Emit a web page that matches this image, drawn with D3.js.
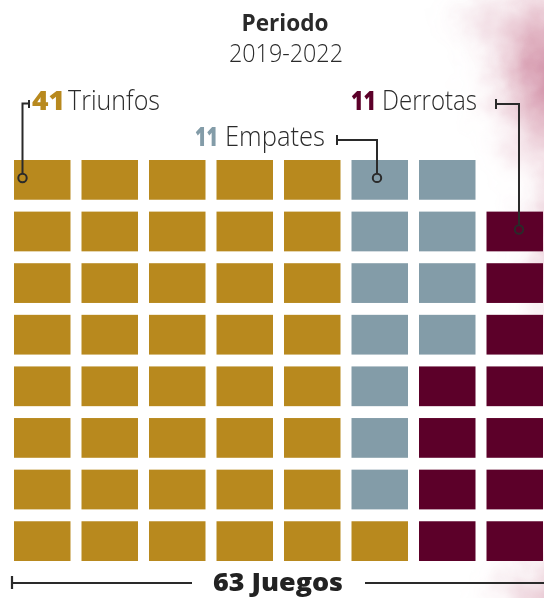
<!DOCTYPE html>
<html>
<head>
<meta charset="utf-8">
<script src="https://cdn.jsdelivr.net/npm/d3@7"></script>
<style>
html,body{margin:0;padding:0;background:#fff;}
svg{display:block;}
</style>
</head>
<body>
<svg id="chart" width="544" height="598"></svg>
<script>
// ---- data ----
const categories = ["Triunfos", "Empates", "Derrotas"];
const counts = [41, 11, 11];
const colors = ["#b8891e", "#839ca8", "#5c0029"];
const totalLabel = "63 Juegos";
const titleText = "Periodo";
const subtitleText = "2019-2022";
const nCols = 8, nRows = 8;

const svg = d3.select("#chart");

// background watercolor
const defs = svg.append("defs");
const f = defs.append("filter").attr("id", "blur").attr("x", "-50%").attr("y", "-50%").attr("width", "200%").attr("height", "200%");
f.append("feTurbulence").attr("type", "fractalNoise").attr("baseFrequency", 0.035).attr("numOctaves", 3).attr("seed", 4).attr("result", "noise");
f.append("feGaussianBlur").attr("in", "SourceGraphic").attr("stdDeviation", 14).attr("result", "b");
f.append("feDisplacementMap").attr("in", "b").attr("in2", "noise").attr("scale", 30).attr("xChannelSelector", "R").attr("yChannelSelector", "G");
const g1 = defs.append("radialGradient").attr("id", "rg");
g1.append("stop").attr("offset", "0%").attr("stop-color", "#b04068").attr("stop-opacity", 0.7);
g1.append("stop").attr("offset", "50%").attr("stop-color", "#c0607f").attr("stop-opacity", 0.38);
g1.append("stop").attr("offset", "100%").attr("stop-color", "#e8b8c8").attr("stop-opacity", 0);
const bg = svg.append("g").attr("filter", "url(#blur)");
bg.append("ellipse").attr("cx", 556).attr("cy", 75).attr("rx", 80).attr("ry", 120).attr("fill", "url(#rg)");
bg.append("ellipse").attr("cx", 495).attr("cy", 22).attr("rx", 45).attr("ry", 35).attr("fill", "url(#rg)").attr("opacity", 0.4);
bg.append("ellipse").attr("cx", 558).attr("cy", 240).attr("rx", 38).attr("ry", 130).attr("fill", "url(#rg)").attr("opacity", 0.5);
bg.append("ellipse").attr("cx", 560).attr("cy", 600).attr("rx", 80).attr("ry", 55).attr("fill", "url(#rg)").attr("opacity", 0.6);

// ---- build cells ----
const cells = [];
for (let c = 0; c < nCols; c++) for (let r = 0; r < nRows; r++) cells.push({c, r, cat: -1});
const total = d3.sum(counts);
const empty = nCols * nRows - total;
const get = (c, r) => cells[c * nRows + r];
for (let i = 0; i < empty; i++) get(nCols - 1 - i, 0).cat = -2;
// first category: from left, column-major, bottom-up
let k = 0;
for (let c = 0; c < nCols && k < counts[0]; c++)
  for (let r = nRows - 1; r >= 0 && k < counts[0]; r--) { const cell = get(c, r); if (cell.cat === -1) { cell.cat = 0; k++; } }
// last category: from right, column-major, bottom-up
k = 0;
for (let c = nCols - 1; c >= 0 && k < counts[2]; c--)
  for (let r = nRows - 1; r >= 0 && k < counts[2]; r--) { const cell = get(c, r); if (cell.cat === -1) { cell.cat = 2; k++; } }
// middle category: remaining, column-major, top-down
k = 0;
for (let c = 0; c < nCols && k < counts[1]; c++)
  for (let r = 0; r < nRows && k < counts[1]; r++) { const cell = get(c, r); if (cell.cat === -1) { cell.cat = 1; k++; } }

const x = d3.scaleBand().domain(d3.range(nCols)).range([14, 543]).paddingInner(0.163).paddingOuter(0);
const y = d3.scaleBand().domain(d3.range(nRows)).range([160, 561]).paddingInner(0.23).paddingOuter(0);

svg.append("g").selectAll("rect").data(cells.filter(d => d.cat >= 0)).join("rect")
  .attr("x", d => x(d.c)).attr("y", d => y(d.r))
  .attr("width", x.bandwidth()).attr("height", y.bandwidth())
  .attr("fill", d => colors[d.cat]);

// ---- titles ----
const FONT = "'Open Sans', sans-serif";
const ink = "#2a2a2a";
svg.append("text").attr("x", 285).attr("y", 31).attr("text-anchor", "middle")
  .attr("font-family", FONT).attr("font-weight", 700).attr("font-size", 23)
  .attr("textLength", 87).attr("lengthAdjust", "spacingAndGlyphs")
  .attr("fill", ink).text(titleText);
svg.append("text").attr("x", 286).attr("y", 62).attr("text-anchor", "middle")
  .attr("font-family", FONT).attr("font-weight", 300).attr("font-size", 25)
  .attr("textLength", 114).attr("lengthAdjust", "spacingAndGlyphs")
  .attr("fill", ink).text(subtitleText);

// ---- labels ----
function label(xNum, wNum, xTxt, wTxt, base, ci) {
  svg.append("text").attr("x", xNum).attr("y", base)
    .attr("font-family", FONT).attr("font-weight", 800).attr("font-size", 27)
    .attr("textLength", wNum).attr("lengthAdjust", "spacingAndGlyphs")
    .attr("fill", colors[ci]).text(counts[ci]);
  svg.append("text").attr("x", xTxt).attr("y", base)
    .attr("font-family", FONT).attr("font-weight", 300).attr("font-size", 27)
    .attr("textLength", wTxt).attr("lengthAdjust", "spacingAndGlyphs")
    .attr("fill", ink).text(categories[ci]);
}
label(32, 33, 68, 92, 110, 0);
label(195, 23, 225, 100, 146, 1);
label(351, 25, 382, 95, 110, 2);

// ---- leaders ----
const lead = svg.append("g").attr("stroke", ink).attr("stroke-width", 2).attr("fill", "none");
function leader(capX, lineY, cornerX, cell) {
  const cy = y(cell.r) + y.bandwidth() * 0.45;
  lead.append("path").attr("d", `M${capX},${lineY - 5}V${lineY + 5}M${capX},${lineY}H${cornerX}V${cy - 4}`);
  lead.append("circle").attr("cx", cornerX).attr("cy", cy).attr("r", 4.2);
}
lead.append("path").attr("d", `M29,100V108M29,103.5H22.5V${y(0) + 14}`);
lead.append("circle").attr("cx", 22.5).attr("cy", y(0) + 18).attr("r", 4.2);
leader(337, 140, 377, {r: 0});
leader(496, 104, 519, {r: 1});

// ---- bottom total ----
const by = 583;
svg.append("path").attr("d", `M12,${by - 7}V${by + 6}M12,${by}H192M365,${by}H545`)
  .attr("stroke", ink).attr("stroke-width", 2.2).attr("fill", "none");
svg.append("text").attr("x", 278).attr("y", 591).attr("text-anchor", "middle")
  .attr("font-family", FONT).attr("font-weight", 800).attr("font-size", 25)
  .attr("textLength", 130).attr("lengthAdjust", "spacingAndGlyphs")
  .attr("fill", "#222").text(totalLabel);
</script>
</body>
</html>
